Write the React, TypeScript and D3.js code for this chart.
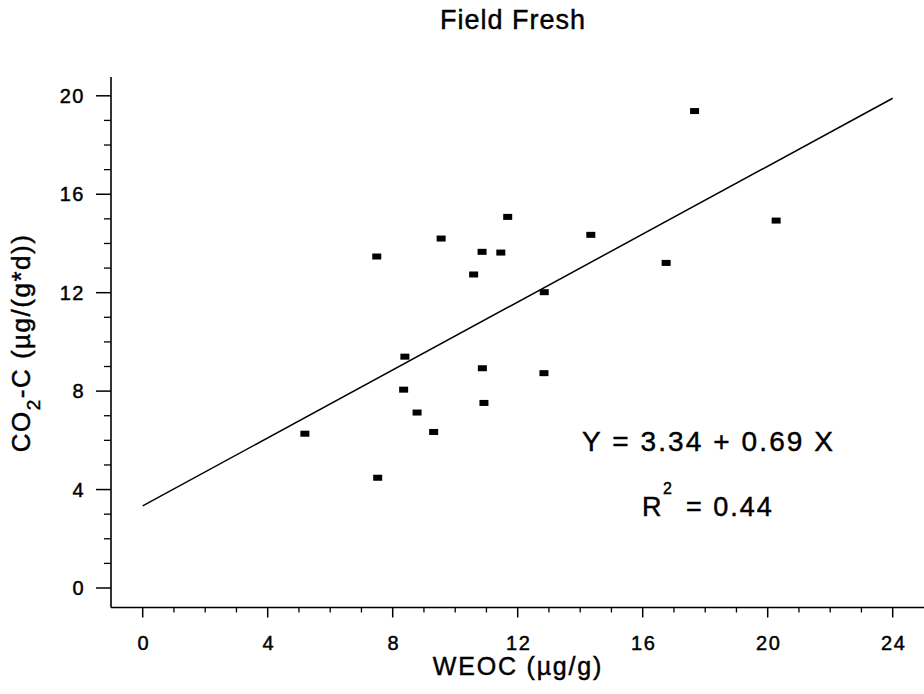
import React from "react";
import * as d3 from "d3";

const xValues = [7.49, 9.55, 11.68, 10.86, 11.46, 10.59, 12.85, 8.39, 10.87, 12.84, 8.35, 10.92, 8.78, 9.31, 5.19, 7.52, 17.66, 14.34, 16.75, 20.27];
const yValues = [13.47, 14.2, 15.08, 13.66, 13.63, 12.74, 12.02, 9.4, 8.93, 8.73, 8.06, 7.52, 7.13, 6.34, 6.27, 4.48, 19.38, 14.35, 13.21, 14.93];
const xTicks = [0, 4, 8, 12, 16, 20, 24];
const yTicks = [0, 4, 8, 12, 16, 20];
const intercept = 3.34;
const slope = 0.69;
const rSquared = 0.44;
const title = "Field Fresh";

const FONT = "'Liberation Sans', Arial, Helvetica, sans-serif";

export default function App() {
  const W = 924, H = 694;
  const x = d3.scaleLinear().domain([0, 24]).range([142.7, 892.7]);
  const y = d3.scaleLinear().domain([0, 20]).range([588, 95.8]);
  const axisX = 111;
  const axisY = 607.5;
  const xMinor = d3.range(0, 25, 1).filter((v) => v % 4 !== 0);
  const yMinor = d3.range(0, 21, 1).filter((v) => v % 4 !== 0);
  const line = d3.line<number>().x((v) => x(v)).y((v) => y(intercept + slope * v));
  const txt = { stroke: "#000", strokeWidth: 0.45, fill: "#000" };

  return (
    <svg width={W} height={H} style={{ position: "absolute", left: 0, top: 0, background: "#fff" }} fontFamily={FONT}>
      <rect x={0} y={0} width={W} height={H} fill="#fff" />
      <text x={513} y={29} textAnchor="middle" fontSize={27} letterSpacing={1} {...txt}>{title}</text>

      {/* axes */}
      <line x1={axisX} y1={77} x2={axisX} y2={axisY} stroke="#000" strokeWidth={1.6} />
      <line x1={axisX} y1={axisY} x2={924} y2={axisY} stroke="#000" strokeWidth={1.6} />

      {xTicks.map((t) => (
        <g key={"xt" + t}>
          <line x1={x(t)} x2={x(t)} y1={axisY} y2={axisY + 10} stroke="#000" strokeWidth={1.5} />
          <text x={x(t) + 1} y={650} textAnchor="middle" fontSize={20} letterSpacing={1.5} {...txt}>{t}</text>
        </g>
      ))}
      {xMinor.map((t) => (
        <line key={"xm" + t} x1={x(t)} x2={x(t)} y1={axisY} y2={axisY + 5} stroke="#000" strokeWidth={1.3} />
      ))}
      {yTicks.map((t) => (
        <g key={"yt" + t}>
          <line x1={axisX - 15} x2={axisX} y1={y(t)} y2={y(t)} stroke="#000" strokeWidth={1.5} />
          <text x={85} y={y(t) + 7} textAnchor="end" fontSize={20} letterSpacing={1.5} {...txt}>{t}</text>
        </g>
      ))}
      {yMinor.map((t) => (
        <line key={"ym" + t} x1={axisX - 7} x2={axisX} y1={y(t)} y2={y(t)} stroke="#000" strokeWidth={1.3} />
      ))}

      {/* regression line */}
      <path d={line([0, 24]) || ""} fill="none" stroke="#000" strokeWidth={1.5} />

      {/* points */}
      {xValues.map((v, i) => (
        <rect key={"p" + i} x={x(v) - 4.5} y={y(yValues[i]) - 3} width={9} height={6} fill="#000" />
      ))}

      {/* equation */}
      <text x={582} y={451} fontSize={28} letterSpacing={2.1} {...txt}>{`Y = ${intercept.toFixed(2)} + ${slope.toFixed(2)} X`}</text>
      <text x={642} y={516} fontSize={27} letterSpacing={2} {...txt}>R</text>
      <text x={663} y={494} fontSize={16} {...txt}>2</text>
      <text x={686} y={516} fontSize={27} letterSpacing={2} {...txt}>{`= ${rSquared.toFixed(2)}`}</text>

      {/* axis labels */}
      <text x={518} y={675} textAnchor="middle" fontSize={25} letterSpacing={1.8} {...txt}>WEOC (µg/g)</text>
      <text transform="translate(30,343) rotate(-90)" textAnchor="middle" fontSize={26} letterSpacing={1.5} {...txt}>
        <tspan>CO</tspan>
        <tspan fontSize={19} dy={10}>2</tspan>
        <tspan dy={-10}>-C (µg/(g*d))</tspan>
      </text>
    </svg>
  );
}
